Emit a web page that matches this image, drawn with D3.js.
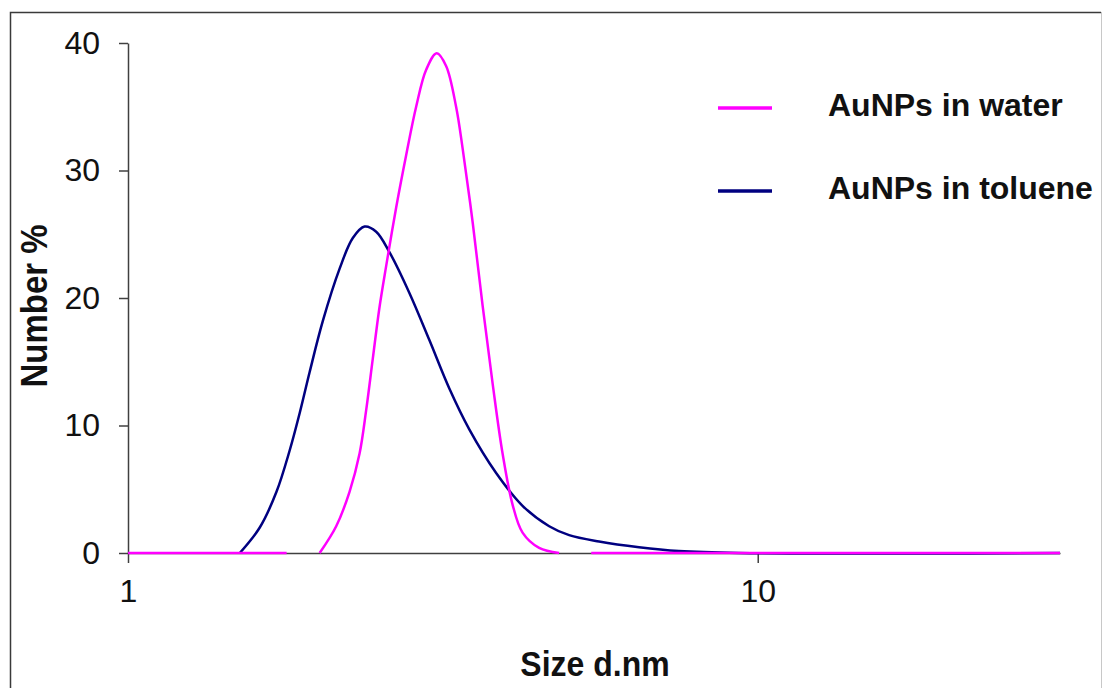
<!DOCTYPE html>
<html>
<head>
<meta charset="utf-8">
<script src="https://cdn.jsdelivr.net/npm/d3@7"></script>
<style>
    body { margin: 0; background: #fff; }
    svg { display: block; font-family: Arial, "Liberation Sans", sans-serif; }
</style>
</head>
<body>
<div id="chart"></div>
<script>
// size bins (d.nm) and number %, null = gap in the line
const waterSize   = [1, 1.786, 1.9, 2.015, 2.141, 2.248, 2.332, 2.389, 2.447, 2.507, 2.57, 2.666, 2.765, 2.868, 2.975, 3.092, 3.2, 3.319, 3.4, 3.527, 3.657, 3.793, 3.934, 4.08, 4.232, 4.497, 4.837, 5.1, 5.44, 30.2]
const waterNumber = [0, 0, null, 0, 2.1, 4.8, 7.8, 11.2, 15.2, 19.2, 22.5, 27.1, 31.2, 35.0, 37.9, 39.2, 38.2, 35.0, 31.7, 25.9, 19.4, 13.3, 7.8, 3.8, 1.6, 0.4, 0, null, 0, 0]

const tolueneSize   = [1.505, 1.619, 1.721, 1.805, 1.874, 1.943, 2.039, 2.168, 2.275, 2.375, 2.478, 2.601, 2.798, 3.01, 3.238, 3.483, 3.84, 4.232, 4.665, 5.018, 5.598, 6.478, 7.496, 9.33, 30.2]
const tolueneNumber = [0, 2.0, 4.8, 8.0, 11.0, 14.2, 18.2, 22.3, 24.7, 25.6, 25.2, 23.6, 20.4, 16.7, 12.9, 9.7, 6.3, 3.7, 2.1, 1.4, 0.9, 0.45, 0.15, 0, 0]

const yTicks = [0, 10, 20, 30, 40]
const xTicks = [1, 10]
const seriesNames = ["AuNPs in water", "AuNPs in toluene"]
const seriesColors = ["#ff00ff", "#000080"]

const width = 1103
const height = 688

const svg = d3.select("#chart")
    .append("svg")
    .attr("width", width)
    .attr("height", height)

// frame round the figure
svg.append("path")
    .attr("d", "M10.5,688 V12.5 H1101")
    .attr("fill", "none")
    .attr("stroke", "#3a3a3a")
    .attr("stroke-width", 1.5)
svg.append("line")
    .attr("x1", 1101.5).attr("x2", 1101.5)
    .attr("y1", 12).attr("y2", 688)
    .attr("stroke", "#c8c8c8")

const x = d3.scaleLog()
    .domain([1, 30.2])
    .range([128, 1060])

const y = d3.scaleLinear()
    .domain([0, 40])
    .range([553, 43])

const axisColor = "#404040"

const yAxis = svg.append("g")
    .attr("transform", "translate(128,0)")
    .call(d3.axisLeft(y).tickValues(yTicks).tickSize(9).tickSizeOuter(0).tickPadding(19))

const xAxis = svg.append("g")
    .attr("transform", "translate(0,553)")
    .call(d3.axisBottom(x).tickValues(xTicks).tickFormat(d3.format("d")).tickSize(10).tickSizeOuter(0).tickPadding(16))

;[xAxis, yAxis].forEach(g => {
    g.select(".domain").attr("stroke", axisColor).attr("stroke-width", 1.5)
    g.selectAll(".tick line").attr("stroke", axisColor).attr("stroke-width", 1.5)
    g.selectAll(".tick text")
        .attr("fill", "#111")
        .style("font-size", "32px")
})

const line = d3.line()
    .defined(d => d[1] !== null)
    .x(d => x(d[0]))
    .y(d => y(d[1]))
    .curve(d3.curveCatmullRom.alpha(0.5))

const toluene = tolueneSize.map((s, i) => [s, tolueneNumber[i]])
const water = waterSize.map((s, i) => [s, waterNumber[i]])

svg.append("path")
    .datum(toluene)
    .attr("d", line)
    .attr("fill", "none")
    .attr("stroke", seriesColors[1])
    .attr("stroke-width", 2.5)

svg.append("path")
    .datum(water)
    .attr("d", line)
    .attr("fill", "none")
    .attr("stroke", seriesColors[0])
    .attr("stroke-width", 2.5)

// legend
const legend = svg.append("g")
seriesNames.forEach((name, i) => {
    const ly = 108 + i * 83
    legend.append("line")
        .attr("x1", 718).attr("x2", 772)
        .attr("y1", ly).attr("y2", ly)
        .attr("stroke", seriesColors[i])
        .attr("stroke-width", 3.5)
    legend.append("text")
        .attr("x", 828)
        .attr("y", ly + 8)
        .style("font-size", "32px")
        .style("font-weight", "bold")
        .attr("fill", "#111")
        .text(name)
})

// axis titles
svg.append("text")
    .attr("transform", "translate(47,306) rotate(-90) scale(1.0,1.1)")
    .attr("text-anchor", "middle")
    .style("font-size", "33px")
    .style("font-weight", "bold")
    .attr("fill", "#111")
    .text("Number %")

svg.append("text")
    .attr("transform", "translate(595,676) scale(1,1.12)")
    .attr("text-anchor", "middle")
    .style("font-size", "32px")
    .style("font-weight", "bold")
    .attr("fill", "#111")
    .text("Size d.nm")
</script>
</body>
</html>
